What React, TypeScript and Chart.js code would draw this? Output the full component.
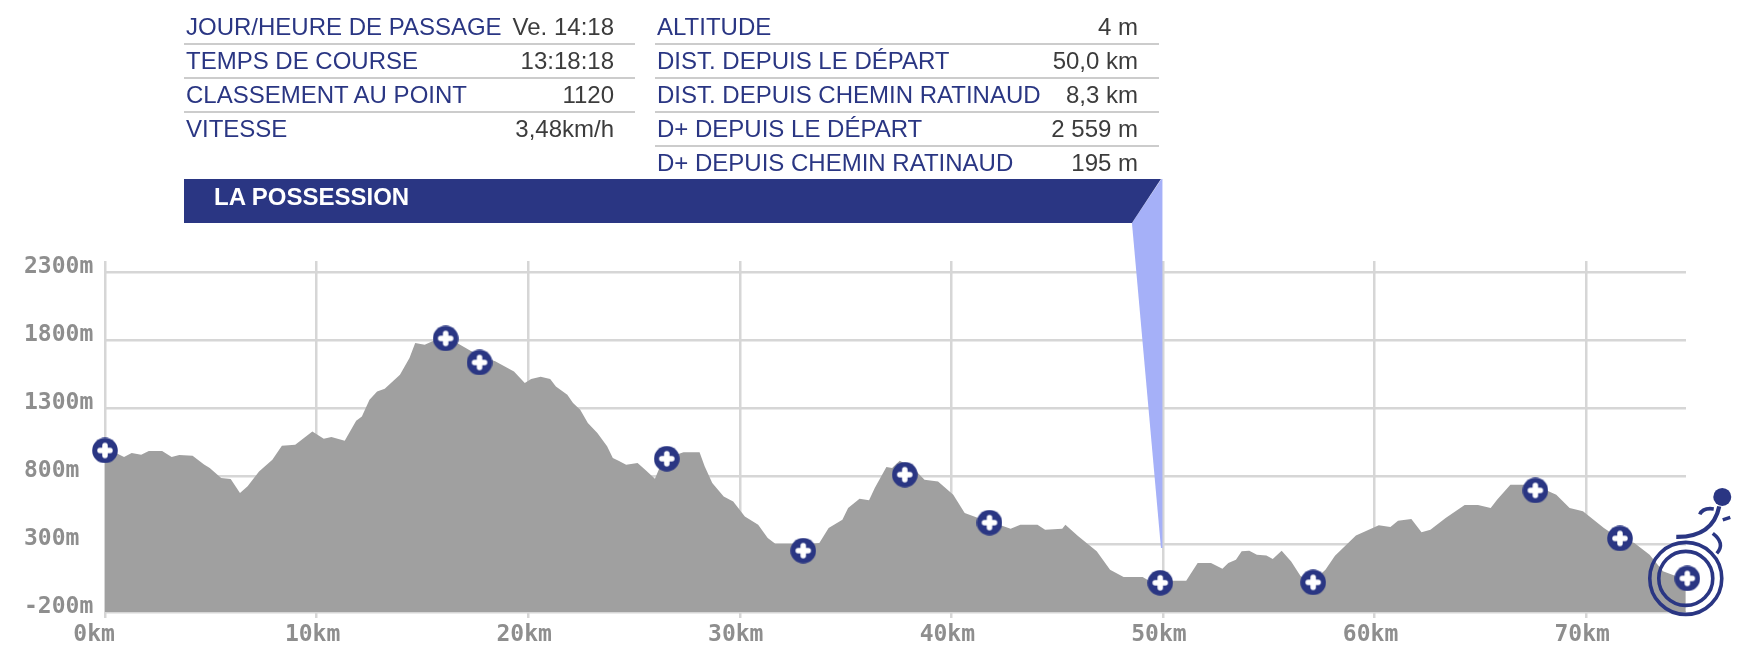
import React, { useEffect, useRef } from "react";
import { Chart, registerables } from "chart.js";

Chart.register(...registerables);

const profileKm = [0,0.45,0.9,1.26,1.71,2.07,2.7,3.15,3.51,4.14,4.68,4.95,5.49,5.94,6.38,6.74,7.28,7.91,8.36,8.99,9.8,10.34,10.7,11.33,11.87,12.14,12.5,12.86,13.22,13.94,14.39,14.66,15.11,16.0,16.64,17.6,18.44,19.33,19.84,20.14,20.59,21.04,21.31,21.85,22.12,22.46,22.82,23.27,23.73,24.0,24.27,24.63,25.17,25.53,25.99,26.17,26.56,27.34,28.1,28.34,28.7,29.24,29.69,30.24,30.87,31.32,31.68,32.4,33.0,33.76,34.2,34.85,35.12,35.66,36.11,36.38,36.93,37.2,37.56,38.19,38.73,39.37,40.09,40.63,41.27,41.83,42.8,43.26,44.07,44.43,45.24,45.39,45.97,46.87,47.5,48.14,49.04,49.4,50.47,51.1,51.64,52.27,52.81,53.09,53.45,53.72,54.08,54.44,54.89,55.19,55.61,56.06,56.51,57.05,57.68,58.13,59.12,59.57,60.2,60.75,61.11,61.74,62.22,62.64,63.36,64.26,64.89,65.49,65.79,66.42,67.54,68.59,69.22,69.85,70.84,71.54,72.28,73.0,73.63,74.71];
const profileAlt = [969,974,939,969,957,984,984,939,954,949,885,859,785,778,675,724,834,920,1023,1030,1128,1074,1086,1060,1207,1238,1361,1422,1442,1545,1667,1778,1765,1827,1778,1692,1643,1569,1484,1513,1530,1513,1459,1398,1336,1287,1189,1116,1018,932,912,883,895,846,780,846,932,974,974,871,748,650,613,503,442,344,302,302,295,307,417,478,564,633,621,711,866,858,912,858,773,760,662,528,491,466,412,442,442,405,412,442,361,246,111,57,57,25,30,30,160,160,118,160,185,246,251,221,216,190,251,172,62,20,111,214,363,393,437,425,471,484,386,405,491,587,587,564,626,736,736,663,564,540,417,344,307,221,99,38];
const markerKm = [0,16.1,17.7,26.55,33.0,37.8,41.8,49.87,57.1,67.6,71.6,74.78];
const markerAlt = [988,1812,1635,927,251,810,457,15,18,694,341,47];
const xTicks = [0,10,20,30,40,50,60,70];
const yTicks = [-200,300,800,1300,1800,2300];
const currentKm = 50;
const placeName = "LA POSSESSION";
const leftRows = [
  ["JOUR/HEURE DE PASSAGE", "Ve. 14:18"],
  ["TEMPS DE COURSE", "13:18:18"],
  ["CLASSEMENT AU POINT", "1120"],
  ["VITESSE", "3,48km/h"],
];
const rightRows = [
  ["ALTITUDE", "4 m"],
  ["DIST. DEPUIS LE DÉPART", "50,0 km"],
  ["DIST. DEPUIS CHEMIN RATINAUD", "8,3 km"],
  ["D+ DEPUIS LE DÉPART", "2 559 m"],
  ["D+ DEPUIS CHEMIN RATINAUD", "195 m"],
];

const NAVY = "#2a3683";
const LIGHT = "#a5b0f8";
const GRID = "#d6d6d6";
const GREY = "#a0a0a0";
const TICK = "#8e8e8e";

function makeMarker(): HTMLCanvasElement {
  const c = document.createElement("canvas");
  c.width = 26;
  c.height = 26;
  const g = c.getContext("2d")!;
  g.fillStyle = NAVY;
  g.beginPath();
  g.arc(13, 13, 12.8, 0, Math.PI * 2);
  g.fill();
  g.strokeStyle = "#fff";
  g.lineWidth = 5.5;
  g.lineCap = "round";
  g.beginPath();
  g.moveTo(13, 8);
  g.lineTo(13, 18);
  g.moveTo(8, 13);
  g.lineTo(18, 13);
  g.stroke();
  return c;
}

const overlay = {
  id: "overlay",
  afterDatasetsDraw(chart: any) {
    const { ctx, scales } = chart;
    const lastKm = markerKm[markerKm.length - 1];
    const lastAlt = markerAlt[markerAlt.length - 1];
    const cx = scales.x.getPixelForValue(lastKm) - 1.5;
    const cy = scales.y.getPixelForValue(lastAlt);
    ctx.save();
    ctx.strokeStyle = NAVY;
    ctx.fillStyle = NAVY;
    ctx.lineCap = "round";
    ctx.lineWidth = 3.6;
    ctx.beginPath();
    ctx.arc(cx, cy, 36, 0, Math.PI * 2);
    ctx.stroke();
    ctx.beginPath();
    ctx.arc(cx, cy, 27, 0, Math.PI * 2);
    ctx.stroke();
    // runner
    ctx.beginPath();
    ctx.arc(cx + 36.5, cy - 81.5, 9, 0, Math.PI * 2);
    ctx.fill();
    ctx.lineCap = "butt";
    ctx.lineWidth = 4.2;
    ctx.beginPath();
    ctx.moveTo(cx + 33.5, cy - 72);
    ctx.quadraticCurveTo(cx + 27, cy - 41, cx - 9.5, cy - 41.5);
    ctx.stroke();
    ctx.lineWidth = 3.6;
    ctx.beginPath();
    ctx.moveTo(cx + 14, cy - 64);
    ctx.quadraticCurveTo(cx + 17, cy - 71, cx + 28, cy - 69.5);
    ctx.stroke();
    ctx.beginPath();
    ctx.moveTo(cx + 37, cy - 58.5);
    ctx.lineTo(cx + 44.5, cy - 61);
    ctx.stroke();
    ctx.beginPath();
    ctx.moveTo(cx + 27, cy - 45);
    ctx.quadraticCurveTo(cx + 40, cy - 35, cx + 31, cy - 25);
    ctx.stroke();
    ctx.restore();
  },
  afterDraw(chart: any) {
    const { ctx, scales } = chart;
    const px = scales.x.getPixelForValue(currentKm);
    ctx.save();
    ctx.fillStyle = LIGHT;
    ctx.beginPath();
    ctx.moveTo(px - 1.5, 179);
    ctx.lineTo(px - 31, 223);
    ctx.lineTo(px - 2, 548);
    ctx.lineTo(px - 0.5, 548);
    ctx.lineTo(px - 0.5, 179);
    ctx.closePath();
    ctx.fill();
    ctx.fillStyle = NAVY;
    ctx.beginPath();
    ctx.moveTo(184, 179);
    ctx.lineTo(px - 2, 179);
    ctx.lineTo(px - 31, 223);
    ctx.lineTo(184, 223);
    ctx.closePath();
    ctx.fill();
    ctx.restore();
  },
};

function InfoRows(props: { rows: string[][]; left: number; right: number; labelX: number; valueX: number }) {
  const { rows, left, right, labelX, valueX } = props;
  return (
    <>
      {rows.map((r, i) => (
        <React.Fragment key={r[0]}>
          <div style={{ position: "absolute", left: labelX, top: 10 + i * 34, height: 34, lineHeight: "34px", color: NAVY, whiteSpace: "nowrap" }}>{r[0]}</div>
          <div style={{ position: "absolute", left: valueX - 300, width: 300, textAlign: "right", top: 10 + i * 34, height: 34, lineHeight: "34px", color: "#3c3c3c", whiteSpace: "nowrap" }}>{r[1]}</div>
          {i < rows.length - 1 && (
            <div style={{ position: "absolute", left, width: right - left, top: 43 + i * 34, height: 2, background: "#cccccc" }} />
          )}
        </React.Fragment>
      ))}
    </>
  );
}

export default function App() {
  const ref = useRef<HTMLCanvasElement>(null);
  useEffect(() => {
    const marker = makeMarker();
    const chart = new Chart(ref.current!, {
      type: "line",
      data: {
        datasets: [
          {
            label: "Marqueurs",
            data: markerKm.map((x, i) => ({ x, y: markerAlt[i] })),
            showLine: false,
            pointStyle: marker as any,
            pointRadius: 13,
            clip: false as any,
            order: 0,
          },
          {
            label: "Altitude",
            data: profileKm.map((x, i) => ({ x, y: profileAlt[i] })),
            borderWidth: 0,
            pointRadius: 0,
            fill: "start",
            backgroundColor: GREY,
            tension: 0,
            order: 1,
          },
        ],
      },
      options: {
        animation: false,
        responsive: false,
        events: [],
        layout: { padding: { left: 24, top: 261, right: 62, bottom: 0 } },
        plugins: { legend: { display: false }, tooltip: { enabled: false }, title: { display: false } },
        scales: {
          x: {
            type: "linear",
            min: 0,
            max: 74.72,
            afterFit: (s: any) => { s.height = 44; },
            afterBuildTicks: (s: any) => { s.ticks = xTicks.map((value) => ({ value })); },
            grid: { color: GRID, lineWidth: 2.5, tickLength: 6, drawTicks: true },
            border: { display: false },
            ticks: {
              autoSkip: false,
              maxRotation: 0,
              minRotation: 0,
              color: TICK,
              padding: 3,
              labelOffset: -4,
              font: { family: "'DejaVu Sans Mono'", size: 23, weight: "bold" },
              callback: (v: any) => (v === 0 ? `${v}km ` : `${v}km`),
            },
          },
          y: {
            type: "linear",
            min: -200,
            max: 2381,
            afterFit: (s: any) => { s.width = 81; },
            afterBuildTicks: (s: any) => { s.ticks = yTicks.map((value) => ({ value })); },
            grid: { color: GRID, lineWidth: 2.5, drawTicks: false },
            border: { display: false },
            ticks: {
              autoSkip: false,
              color: TICK,
              crossAlign: "far",
              labelOffset: -5,
              font: { family: "'DejaVu Sans Mono'", size: 23, weight: "bold" },
              callback: (v: any) => `${v}m`,
            },
          },
        },
      },
      plugins: [overlay],
    } as any);
    return () => chart.destroy();
  }, []);

  return (
    <div style={{ position: "absolute", left: 0, top: 0, width: 1748, height: 656, background: "#fff", overflow: "hidden", fontFamily: "'Liberation Sans', Arial, sans-serif", fontSize: 24 }}>
      <canvas ref={ref} width={1748} height={656} style={{ position: "absolute", left: 0, top: 0, display: "block" }} />
      <InfoRows rows={leftRows} left={184} right={635} labelX={186} valueX={614} />
      <InfoRows rows={rightRows} left={655} right={1159} labelX={657} valueX={1138} />
      <div style={{ position: "absolute", left: 214, top: 179, height: 36, lineHeight: "36px", color: "#fff", fontWeight: "bold", fontSize: 24 }}>{placeName}</div>
    </div>
  );
}
